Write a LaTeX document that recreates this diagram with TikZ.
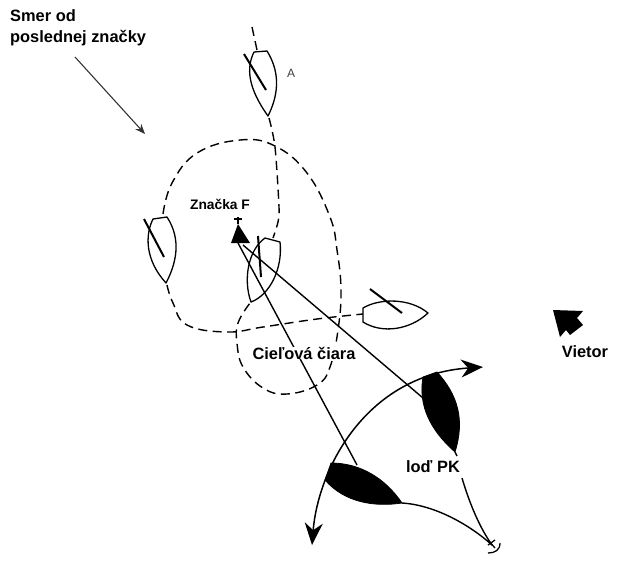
\documentclass[tikz,border=0pt]{standalone}
\usepackage{fontspec}
\setmainfont{Liberation Sans}
\usetikzlibrary{positioning, arrows.meta}

\begin{document}
\begin{tikzpicture}[x=1pt, y=-1pt, >=Stealth,
      hull/.style={draw, line width=1.3pt, line join=round},
      blackhull/.style={draw, fill=black, line width=0.8pt},
      sail/.style={draw, line width=2pt},
      course/.style={draw, line width=1.4pt, dash pattern=on 9pt off 5.5pt},
      sheet/.style={draw, line width=1.4pt},
      lbl/.style={font=\fontsize{16.4}{21.5}\selectfont\bfseries, inner sep=1pt, align=left}]

    \useasboundingbox (0,0) rectangle (620,566);

    % courses of the boats
    \draw[course] plot[smooth, tension=0.7] coordinates {(163,214) (172,183) (197,153) (240,140) (275,146) (307,173) (330,217) (337,250) (341,290) (338,330) (330,367) (317,385) (287,394) (263,388) (243,367) (237,343) (238,323) (250,303)};
    \draw[course] (252,27) -- (257,50);
    \draw[course] plot[smooth] coordinates {(269,118) (275,147) (279,207) (278,222) (273,238)};
    \draw[course] plot[smooth, tension=0.7] coordinates {(167,285) (173,303) (187,325) (227,332) (263,327) (317,319) (363,314)};

    % boats
    \draw[hull] (268,116) .. controls (277,98) and (282,75) .. (267,51) -- (254,52) .. controls (246,68) and (248,88) .. cycle;
    \draw[sail] (244,54) -- (266,90);
    \draw[hull] (166,283) .. controls (176,264) and (182,240) .. (167,217) -- (153,219) .. controls (145,235) and (145,260) .. cycle;
    \draw[sail] (144,219) -- (164,257);
    \draw[hull] (251,302) .. controls (270,295) and (283,268) .. (280,242) -- (265,238) .. controls (248,250) and (243,280) .. cycle;
    \draw[sail] (258,236) -- (261,277);
    \draw[hull] (428,313) .. controls (410,298) and (380,298) .. (363,308) -- (363,322) .. controls (382,334) and (410,330) .. cycle;
    \draw[sail] (370,289) -- (402,313);

    % mark
    \fill (238,224) -- (250,243) -- (231,243) -- cycle;
    \draw[line width=1.2pt] (238,217) -- (238,224) (234,219) -- (242,219);

    % lay lines and sheets
    \coordinate (markL) at (238,243);
    \coordinate (markR) at (243,245);
    \coordinate (anchor) at (492,545);
    \draw[sheet] (markL) -- (357,465);
    \draw[sheet] (markR) -- (423,398);
    \node[lbl, fill=white, inner ysep=0pt] (finish) at (304,353) {Cieľová čiara};

    % arc of the turning boat
    \draw[line width=1.5pt, {Stealth[length=22pt,width=18pt]}-{Stealth[length=22pt,width=18pt]}] (312,545) .. controls (318,470) and (365,375) .. (483,367);

    % dark boats
    \draw[blackhull] (455,452) .. controls (465,420) and (458,395) .. (437,372) -- (423,377) .. controls (418,405) and (430,430) .. cycle;
    \draw[blackhull] (402,503) .. controls (385,478) and (360,463) .. (331,463) -- (325,480) .. controls (345,503) and (375,507) .. cycle;

    \node[lbl, fill=white, inner ysep=2pt] (pk) at (433,467) {loď PK};

    \draw[sheet] (455,452) -- (457,456);
    \draw[sheet] (462,478) .. controls (470,505) and (480,528) .. (anchor);
    \draw[sheet] (402,503) .. controls (435,505) and (470,525) .. (anchor);
    \draw[line width=1.3pt] (488,540) -- (495,548) (488,545) -- (495,540);
    \draw[line width=1.3pt] (500,543) .. controls (500,550) and (495,553) .. (488,553);

    % other labels
    \node[lbl, anchor=north west, inner sep=0pt] (origin) at (10,9) {Smer od\\poslednej značky};
    \coordinate (originEnd) at (145,134);
    \draw[-{Stealth[length=10pt,width=8pt]}, line width=1.1pt, black!80] (75,57) -- (originEnd);
    \node[font=\fontsize{13.8}{15}\selectfont\bfseries, inner sep=1pt] (markF) at (220,204) {Značka F};
    \node[font=\fontsize{12}{14}\selectfont, text=black!75, inner sep=1pt] (boatA) at (291,73) {A};

    % wind
    \fill (553,310) -- (583,311) -- (577,318) -- (583,325) -- (570,335) -- (566,330) -- (560,337) -- cycle;
    \node[lbl] (wind) at (585,352) {Vietor};
\end{tikzpicture}
\end{document}
